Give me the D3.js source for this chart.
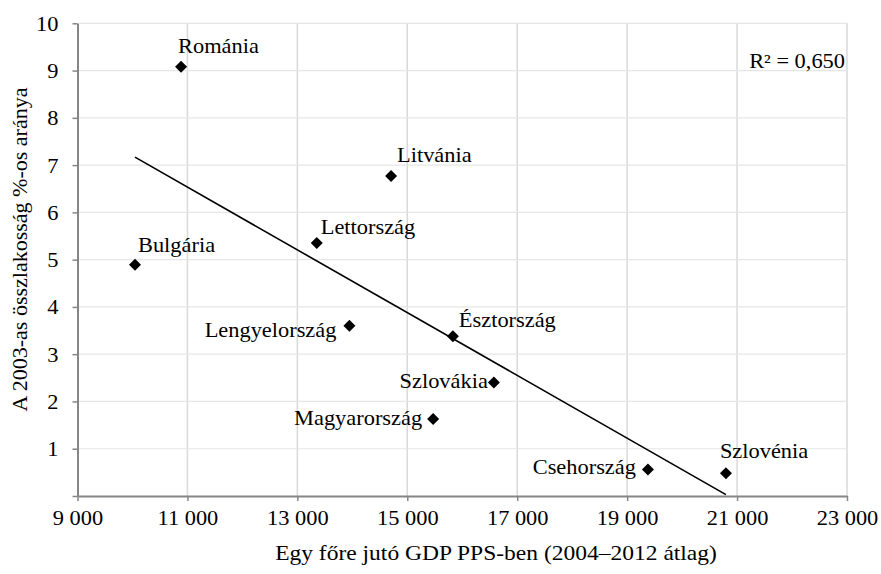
<!doctype html>
<html lang="hu">
<head>
<meta charset="utf-8">
<title>GDP és népesség</title>
<script src="https://d3js.org/d3.v7.min.js"></script>
<style>
  body { margin: 0; background: #fff; }
  text { font-family: "Liberation Serif", "Times New Roman", serif; fill: #000; }
</style>
</head>
<body>
<div id="chart"></div>
<script>
// data
var countries = ["Románia", "Bulgária", "Lettország", "Litvánia", "Lengyelország",
                 "Észtország", "Szlovákia", "Magyarország", "Csehország", "Szlovénia"];
var gdpPPS = [10884, 10046, 13353, 14705, 13947, 15829, 16575, 15470, 19378, 20797];
var popShare = [9.08, 4.89, 5.35, 6.77, 3.60, 3.38, 2.40, 1.63, 0.56, 0.48];
var xTicks = [9000, 11000, 13000, 15000, 17000, 19000, 21000, 23000];
var yTicks = [1, 2, 3, 4, 5, 6, 7, 8, 9, 10];
var r2Label = "R² = 0,650";

// label placement relative to the marker: [dx, dy, anchor]
var labelPos = {
  "Románia": [-3, -14, "start"],
  "Bulgária": [3, -13, "start"],
  "Lettország": [4, -9, "start"],
  "Litvánia": [6, -14, "start"],
  "Lengyelország": [-13, 11, "end"],
  "Észtország": [6, -9, "start"],
  "Szlovákia": [-6, 5, "end"],
  "Magyarország": [-11, 6, "end"],
  "Csehország": [-12, 4, "end"],
  "Szlovénia": [-6, -15, "start"]
};

var width = 881, height = 574;
var fs = 20;
var sx = 1.12; // the original text looks stretched sideways

var svg = d3.select("#chart").append("svg")
    .attr("width", width)
    .attr("height", height);

var x = d3.scaleLinear().domain([9000, 23000]).range([77.5, 847]);
var y = d3.scaleLinear().domain([0, 10]).range([496, 23.3]);

// grid
svg.append("g").selectAll("line.v")
    .data(xTicks.slice(1))
    .enter().append("line")
    .attr("x1", d => x(d)).attr("x2", d => x(d))
    .attr("y1", y(0)).attr("y2", y(10))
    .attr("stroke", "#d9d9d9").attr("stroke-width", 1.5);
svg.append("g").selectAll("line.h")
    .data(yTicks)
    .enter().append("line")
    .attr("x1", x(9000)).attr("x2", x(23000))
    .attr("y1", d => y(d)).attr("y2", d => y(d))
    .attr("stroke", "#e6e6e6").attr("stroke-width", 1.2);

var fmt = d => d3.format(",")(d).replace(",", "\u00a0");

// x axis
var xAxis = svg.append("g")
    .attr("transform", "translate(0," + y(0) + ")")
    .call(d3.axisBottom(x).tickValues(xTicks).tickFormat(fmt).tickSize(5).tickPadding(10).tickSizeOuter(0));
// y axis
var yAxis = svg.append("g")
    .attr("transform", "translate(" + x(9000) + ",0)")
    .call(d3.axisLeft(y).tickValues([0].concat(yTicks)).tickFormat(d => d === 0 ? "" : d).tickSize(5).tickPadding(12).tickSizeOuter(0));

[xAxis, yAxis].forEach(function (a) {
  a.select(".domain").attr("stroke", "#868686").attr("stroke-width", 2);
  a.selectAll(".tick line").attr("stroke", "#868686").attr("stroke-width", 1.5);
  a.selectAll(".tick text")
    .style("font-family", "Liberation Serif").style("font-size", fs + "px")
    .attr("fill", "#000")
    .attr("transform", "scale(" + sx + ",1)");
});
yAxis.selectAll(".tick text").attr("dy", "0.35em");

// linear trend computed from the points
var mx = d3.mean(gdpPPS), my = d3.mean(popShare);
var sxy = d3.sum(gdpPPS, (v, i) => (v - mx) * (popShare[i] - my));
var sxx = d3.sum(gdpPPS, v => (v - mx) * (v - mx));
var slope = sxy / sxx, icpt = my - slope * mx;
var xr = d3.extent(gdpPPS);
svg.append("line")
    .attr("x1", x(xr[0])).attr("y1", y(icpt + slope * xr[0]))
    .attr("x2", x(xr[1])).attr("y2", y(icpt + slope * xr[1]))
    .attr("stroke", "#000").attr("stroke-width", 1.6);

// markers
svg.append("g").selectAll("path")
    .data(countries)
    .enter().append("path")
    .attr("d", d3.symbol().type(d3.symbolSquare).size(72))
    .attr("transform", (d, i) => "translate(" + x(gdpPPS[i]) + "," + y(popShare[i]) + ") rotate(45)")
    .attr("fill", "#000");

// labels
svg.append("g").selectAll("text")
    .data(countries)
    .enter().append("text")
    .attr("transform", (d, i) => "translate(" + (x(gdpPPS[i]) + labelPos[d][0]) + "," +
        (y(popShare[i]) + labelPos[d][1]) + ") scale(" + sx + ",1)")
    .attr("text-anchor", d => labelPos[d][2])
    .style("font-size", fs + "px")
    .text(d => d);

svg.append("text")
    .attr("transform", "translate(845,68) scale(" + sx + ",1)")
    .attr("text-anchor", "end")
    .style("font-size", fs + "px")
    .text(r2Label);

// axis titles
svg.append("text")
    .attr("transform", "translate(496,560) scale(" + sx + ",1)")
    .attr("text-anchor", "middle")
    .style("font-size", "21px")
    .text("Egy főre jutó GDP PPS-ben (2004–2012 átlag)");
svg.append("text")
    .attr("transform", "translate(27,249.5) rotate(-90)")
    .attr("text-anchor", "middle")
    .style("font-size", "22px")
    .text("A 2003-as összlakosság %-os aránya");
</script>
</body>
</html>
